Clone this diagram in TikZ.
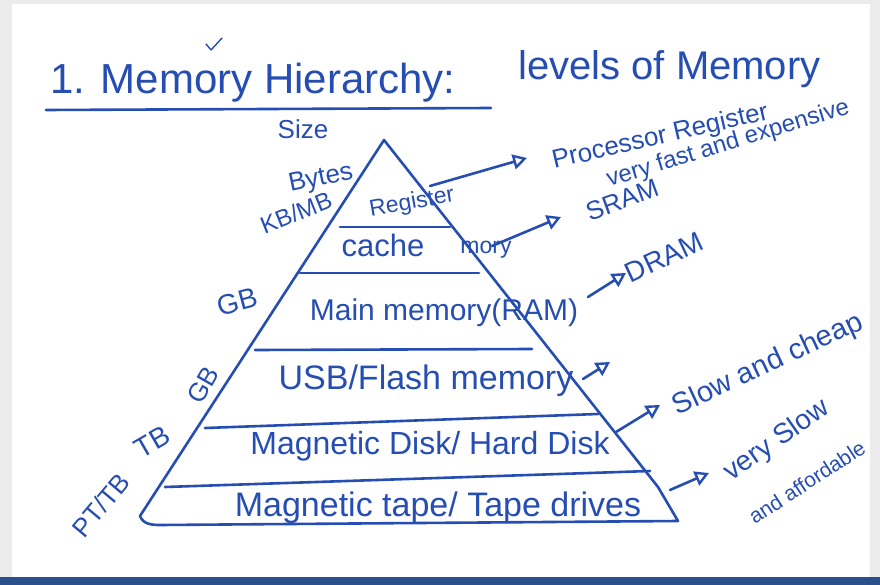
\documentclass[tikz,border=0pt]{standalone}
\usepackage{fontspec}
\setmainfont{Liberation Sans}
\usetikzlibrary{arrows.meta}
\definecolor{ink}{RGB}{38,78,178}
\definecolor{bar}{RGB}{43,78,140}
\definecolor{frame}{RGB}{236,236,238}
\tikzset{
  pen/.style={draw=ink, line width=2.6pt, line cap=round, line join=round},
  lbl/.style={text=ink, inner sep=0pt, font=\fontsize{#1}{#1}\selectfont},
  lbl/.default=24,
  arr/.style={pen, -{Triangle[open,length=14pt,width=15pt,line width=2.4pt]}},
}
\begin{document}
\begin{tikzpicture}[x=1pt,y=-1pt]
\useasboundingbox (0,0) rectangle (880,585);
% frame
\fill[frame] (0,0) rectangle (880,585);
\fill[white] (12,4) rectangle (870,577);
\fill[bar] (0,577) rectangle (880,585);

% title
\node[lbl=42, anchor=base west] (title) at (50,94) {1. Memory Hierarchy:};
\node[lbl=40, anchor=base west] (levels) at (518,80) {levels of Memory};
\draw[pen] (46,110) -- (491,108);
\draw[pen, line width=1.4pt] (206,44) -- (211,50) -- (222,38);

% pyramid
\draw[pen] (384,140) -- (140,516) to[out=-70,in=180] (160,525) -- (678,521) -- (658,487) -- cycle;
\draw[pen] (340,227) -- (450,227);
\draw[pen] (300,273) -- (479,273);
\draw[pen] (255,350) -- (532,349);
\draw[pen] (205,428) -- (598,414);
\draw[pen] (165,487) -- (650,471);

% layer texts
\node[lbl=23, rotate=10] (reg) at (412,203) {Register};
\node[lbl=31] (cache) at (383,245) {cache};
\node[lbl=23] (mory) at (486,250) {mory};
\node[lbl=30] (main) at (444,313) {Main memory(RAM)};
\node[lbl=34] (usb) at (426,381) {USB/Flash memory};
\node[lbl=32] (disk) at (430,446) {Magnetic Disk/ Hard Disk};
\node[lbl=34] (tape) at (438,508) {Magnetic tape/ Tape drives};

% size labels
\node[lbl=26] (size) at (303,129) {Size};
\node[lbl=26, rotate=12] (bytes) at (321,179) {Bytes};
\node[lbl=24, rotate=22] (kbmb) at (296,213) {KB/MB};
\node[lbl=28, rotate=15] (gb1) at (237,302) {GB};
\node[lbl=26, rotate=60] (gb2) at (203,385) {GB};
\node[lbl=28, rotate=30] (tb) at (152,442) {TB};
\node[lbl=26, rotate=50] (pttb) at (101,505) {PT/TB};

% right labels
\node[lbl=26, rotate=13, anchor=base] (proc) at (662,144) {Processor Register};
\node[lbl=24, rotate=17, anchor=base] (fast) at (730,150) {very fast and expensive};
\node[lbl=26, rotate=20] (sram) at (622,200) {SRAM};
\node[lbl=28, rotate=25] (dram) at (664,257) {DRAM};
\node[lbl=29, rotate=25] (slow) at (768,365) {Slow and cheap};
\node[lbl=28, rotate=35] (vslow) at (777,441) {very Slow};
\node[lbl=21, rotate=33] (afford) at (807,482) {and affordable};

% arrows
\coordinate (a1) at (430,186); \coordinate (t1) at (527,158);
\coordinate (a2) at (492,246); \coordinate (t2) at (561,217);
\coordinate (a3) at (588,297); \coordinate (t3) at (626,273);
\coordinate (a4) at (583,379); \coordinate (t4) at (610,362);
\coordinate (a5) at (616,432); \coordinate (t5) at (660,405);
\coordinate (a6) at (670,490); \coordinate (t6) at (709,473);
\draw[arr] (a1) -- (t1);
\draw[arr] (a2) -- (t2);
\draw[arr] (a3) -- (t3);
\draw[arr] (a4) -- (t4);
\draw[arr] (a5) -- (t5);
\draw[arr] (a6) -- (t6);
\end{tikzpicture}
\end{document}
